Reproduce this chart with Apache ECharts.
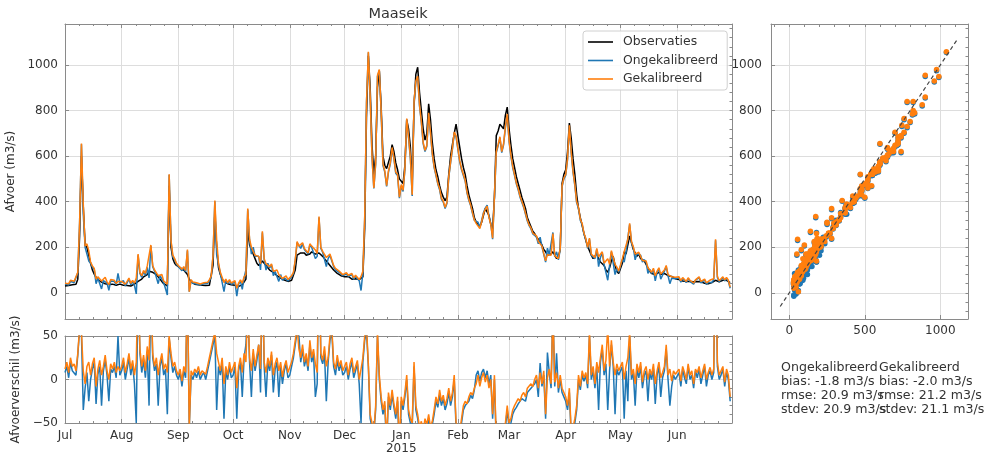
<!DOCTYPE html>
<html><head><meta charset="utf-8">
<script src="https://cdn.jsdelivr.net/npm/echarts@6/dist/echarts.min.js"></script>
<style>html,body{margin:0;padding:0;background:#fff}#c{width:992px;height:457px}</style>
</head><body><div id="c"></div>
<script>
// ---------- data ----------
const monthNames = ['Jan','Feb','Mar','Apr','May','Jun','Jul','Aug','Sep','Oct','Nov','Dec'];
const startYear = 2014, startMonth = 6, nDays = 365;
const seriesNames = ['Observaties','Ongekalibreerd','Gekalibreerd'];
const chartTitle = 'Maaseik';
const yLabelMain = 'Afvoer (m3/s)';
const yLabelDiff = 'Afvoerverschil (m3/s)';

// observed daily discharge (m3/s), Jul 2014 .. Jun 2015
const obs = [
 30,28,32,30,35,33,38,60,250,600,380,210,200,165,130,100,82,68,58,52,47,44,40,38,36,40,38,35,33,35,38,
 35,33,30,32,35,30,32,38,45,50,55,60,70,75,80,95,100,90,85,80,70,60,50,40,35,30,470,200,150,130,120,
 115,110,105,100,90,80,60,48,42,38,36,35,34,33,32,32,31,33,38,120,350,200,110,80,60,50,45,40,38,35,
 35,33,30,28,32,35,40,60,280,210,190,170,150,130,120,115,140,130,120,110,100,95,90,82,75,70,65,60,56,52,50,
 52,55,60,100,165,170,175,180,175,165,160,170,180,175,170,165,175,170,160,150,140,130,120,110,100,95,85,80,75,70,
 70,68,72,65,60,58,62,55,58,60,70,280,780,1040,900,650,520,600,900,975,820,600,560,545,550,600,650,620,570,540,500,
 495,480,560,760,720,640,480,820,960,990,880,800,720,670,700,830,760,660,590,540,510,470,440,420,405,420,520,600,650,700,740,
 690,640,590,550,520,470,430,400,370,330,310,300,290,310,340,370,375,340,300,280,420,690,710,740,740,720,780,815,
 720,650,590,550,510,480,450,420,395,370,330,310,290,270,260,245,235,225,210,190,180,165,158,170,180,165,150,160,190,480,520,
 540,620,745,680,590,520,430,370,330,295,260,230,205,185,165,150,160,175,150,135,140,120,100,90,110,140,160,120,95,85,
 90,130,180,170,210,250,220,190,175,160,170,150,145,140,125,110,95,85,90,80,85,90,80,75,85,80,75,70,72,65,62,
 60,58,55,52,55,50,48,50,52,48,45,50,55,48,45,42,44,40,42,45,50,55,52,48,50,55,60,55,50,45
];
// model minus observation, uncalibrated (m3/s)
const diffUncal = [
 8,15,2,20,10,12,5,28,58,52,-35,-10,8,-25,0,12,20,-28,6,15,-30,10,22,5,-25,12,8,15,2,50,5,
 10,20,0,12,25,5,18,-5,-50,115,30,8,22,2,32,-30,105,25,10,18,-30,15,25,5,12,-40,48,25,8,15,5,
 0,8,-8,10,2,105,-55,5,0,8,2,10,0,5,8,0,10,20,30,40,52,-35,15,5,20,-45,10,0,15,2,
 5,15,-45,10,20,-20,25,40,85,20,-20,30,10,22,40,-15,125,15,-20,20,10,28,-15,12,20,-20,15,-5,10,18,2,
 5,15,25,40,55,50,20,35,15,25,10,40,20,30,-20,-5,155,25,18,30,-25,20,45,55,15,5,22,10,18,5,
 8,15,0,12,20,2,10,18,-5,-50,20,45,55,15,-45,-55,-62,-35,50,0,-25,-40,-30,-78,-20,-35,-18,-32,-45,-25,-85,
 -25,-35,-20,0,-40,-50,-55,15,-35,-45,-60,-52,-65,-50,-58,-45,-60,-52,-40,-25,-32,-18,-30,-22,-35,-28,-15,-30,-20,0,-55,
 -60,-65,-50,-35,-30,-32,-25,-18,-22,-12,5,10,-2,8,12,2,10,-5,5,-45,0,-75,-65,-60,-125,-70,-55,-35,
 -55,-50,-40,-35,-32,-28,-30,-22,-20,-25,-15,-15,-10,-12,-5,0,-20,19,-8,5,-45,31,8,-10,85,-8,30,-15,0,-15,-20,
 -25,-35,-15,-65,-60,-50,-35,0,-12,5,-2,5,-10,50,0,10,-10,15,-35,20,35,5,18,-35,10,40,15,-40,12,5,
 5,15,-45,10,-25,50,0,8,-30,12,2,15,-10,5,10,-25,8,0,12,-28,5,15,-20,2,10,35,0,-30,-8,5,0,
 0,8,-8,12,2,-5,15,0,5,-10,10,2,12,-5,5,15,-8,5,10,0,8,175,15,0,5,12,-8,8,0,-25
];
// model minus observation, calibrated (m3/s)
const diffCal = [
 12,20,8,25,15,18,10,30,60,55,10,-5,15,20,5,18,25,-8,12,22,5,15,28,10,0,18,12,20,8,15,10,
 15,25,8,18,30,12,22,5,20,120,35,15,28,10,38,22,110,30,15,25,5,20,30,12,18,8,50,30,15,20,10,
 5,12,-2,15,8,110,-55,10,5,12,8,15,5,10,12,6,15,25,35,45,55,30,20,10,25,-5,15,5,20,8,
 10,20,-10,15,25,8,30,20,90,25,10,35,15,28,40,12,130,20,8,25,15,32,5,18,25,10,20,3,15,22,8,
 10,20,30,45,60,35,25,40,20,30,15,45,25,35,18,8,160,30,22,38,15,25,50,60,20,12,28,15,22,10,
 12,20,5,18,25,8,15,22,0,12,25,50,60,18,-40,-50,-60,-30,55,5,-20,-35,-25,-75,-15,-30,-12,-28,-40,-20,-80,
 -20,-30,-15,5,-35,-45,-50,20,-30,-40,-55,-48,-60,-45,-52,-40,-55,-48,-35,-20,-28,-12,-25,-18,-30,-22,-10,-25,-15,5,-50,
 -55,-60,-45,-30,-25,-28,-20,-15,-18,-10,-5,5,-8,2,8,-3,5,-10,0,-40,5,-70,-60,-55,-120,-65,-50,-30,
 -50,-45,-35,-30,-28,-22,-25,-18,-15,-20,-10,-12,-5,-8,0,5,-10,8,-5,10,-40,2,12,-5,80,-3,8,-10,5,-10,-15,
 -20,-30,-10,-60,-55,-45,-30,5,-8,10,2,8,-5,55,5,15,-5,20,8,25,40,10,22,60,15,45,20,5,18,10,
 10,20,0,15,25,55,5,12,-5,18,8,20,-3,10,15,0,12,5,18,-5,10,20,2,8,15,40,5,12,-2,10,6,
 5,12,-2,15,8,0,18,5,10,-5,12,8,15,2,10,18,0,8,14,5,12,180,20,5,10,15,-3,12,5,-20
];
const mainTicks = [0,200,400,600,800,1000];
const diffTicks = [-50,0,50];
const scatterXTicks = [0,500,1000];
const diagExtent = [-60,1115];
const statsCols = ['Ongekalibreerd','Gekalibreerd'];
const statsBias = ['-1.8','-2.0'];
const statsRmse = ['20.9','21.2'];
const statsStdev = ['20.9','21.1'];

// ---------- derived ----------
const DAY = 864e5;
const dates = [];
for (let i = 0; i < nDays; i++) dates.push(new Date(startYear, startMonth, 1 + i).getTime());
const tMin = new Date(startYear, startMonth, 1).getTime();
const tMax = new Date(startYear + 1, startMonth, 1).getTime();
const uncal = obs.map((v, i) => v + diffUncal[i]);
const cal = obs.map((v, i) => v + diffCal[i]);
function steps(a, b, s){ const r=[]; for(let v=a; v<=b+1e-9; v+=s) r.push(v); return r; }
const mainMinor = steps(-80, 1160, 40);
const diffMinor = steps(-50, 50, 10);
const scatMinor = steps(-100, 1100, 100);

const FONT = 'DejaVu Sans';
const AX = '#8a8a8a', GRIDC = '#dddddd', TXT = '#333333';
const C_OBS = '#000000', C_UN = '#1f77b4', C_CAL = '#ff7f0e';

function fmtNum(v){ return v < 0 ? '\u2212' + Math.abs(v) : String(v); }
function fmtMonth(v){
  if (v >= tMax - DAY) return '';
  const d = new Date(v); const m = d.getMonth();
  return m === 0 ? monthNames[0] + '\n' + d.getFullYear() : monthNames[m];
}

function tAxis(gi, pos, labels, split){
  return {
    type:'time', gridIndex:gi, position:pos, min:tMin, max:tMax,
    splitNumber:12, minInterval:28*DAY, maxInterval:31*DAY,
    axisLine:{show:true,onZero:false,lineStyle:{color:AX,width:1}},
    axisTick:{show:true,inside:true,length:4,lineStyle:{color:AX,width:1}},
    minorTick:{show:true,splitNumber:4,length:2,lineStyle:{color:AX,width:1}},
    splitLine:{show:split,lineStyle:{color:GRIDC,width:1}},
    minorSplitLine:{show:false},
    axisLabel: labels ? {show:true,formatter:fmtMonth,color:TXT,fontSize:12,fontFamily:FONT,margin:6,lineHeight:13,showMinLabel:true,showMaxLabel:false,hideOverlap:false} : {show:false}
  };
}
function vAxis(gi, pos, min, max, ticks, labels, split, tickLen, extra){
  return Object.assign({
    type:'value', gridIndex:gi, position:pos, min:min, max:max,
    axisLine:{show:true,onZero:false,lineStyle:{color:AX,width:1}},
    axisTick:{show:true,inside:true,length:tickLen,customValues:ticks,lineStyle:{color:AX,width:1}},
    splitLine:{show:split,lineStyle:{color:GRIDC,width:1}},
    axisLabel: labels ? {show:true,customValues:ticks,formatter:fmtNum,color:TXT,fontSize:12,fontFamily:FONT,margin:7} : {show:false}
  }, extra || {});
}
function lineS(name, xi, yi, data, color, z){
  return {type:'line', name:name, xAxisIndex:xi, yAxisIndex:yi, data:data, symbol:'none', showSymbol:false,
    lineStyle:{color:color,width:1.5}, itemStyle:{color:color}, z:z, clip:true, emphasis:{disabled:true}};
}
const ts = (arr) => dates.map((t, i) => [t, arr[i]]);

const statLines = statsCols.map((c, i) => [c, 'bias: ' + statsBias[i] + ' m3/s', 'rmse: ' + statsRmse[i] + ' m3/s', 'stdev: ' + statsStdev[i] + ' m3/s']);
const statX = [781, 879], statY = [367.7, 381.8, 396, 410.2];
const graphics = [{type:'text', x:398, y:14, style:{text:chartTitle, font:'14.5px "DejaVu Sans"', fill:TXT, textAlign:'center', textVerticalAlign:'middle'}}];
statLines.forEach((col, ci) => col.forEach((t, li) => graphics.push({type:'text', x:statX[ci], y:statY[li], style:{text:t, font:'12.6px "DejaVu Sans"', fill:TXT, textAlign:'left', textVerticalAlign:'middle'}})));

const chart = echarts.init(document.getElementById('c'), null, {renderer:'canvas'});
chart.setOption({
  animation:false,
  backgroundColor:'#ffffff',
  textStyle:{fontFamily:FONT},
  grid:[
    {left:65, top:24, width:667, height:295, containLabel:false, outerBoundsMode:'none'},
    {left:65, top:336, width:667, height:87, containLabel:false, outerBoundsMode:'none'},
    {left:771, top:24, width:197, height:295, containLabel:false, outerBoundsMode:'none'}
  ],
  xAxis:[
    tAxis(0,'bottom',false,true),
    tAxis(0,'top',false,false),
    tAxis(1,'bottom',true,true),
    tAxis(1,'top',false,false),
    vAxis(2,'bottom',-121,1183,scatterXTicks,true,true,4,{axisLabel:{show:true,customValues:scatterXTicks,formatter:fmtNum,color:TXT,fontSize:12,fontFamily:FONT,margin:6}}),
    vAxis(2,'top',-121,1183,scatMinor,false,false,3)
  ],
  yAxis:[
    vAxis(0,'left',-115,1180,mainTicks,true,true,4,{name:yLabelMain,nameLocation:'middle',nameGap:40,nameTextStyle:{fontSize:12,color:TXT,fontFamily:FONT}}),
    vAxis(0,'right',-115,1180,mainMinor,false,false,2.5),
    vAxis(1,'left',-50,50,diffTicks,true,true,4,{name:yLabelDiff,nameLocation:'middle',nameGap:35,nameTextStyle:{fontSize:12,color:TXT,fontFamily:FONT}}),
    vAxis(1,'right',-50,50,diffMinor,false,false,2.5),
    vAxis(2,'left',-115,1180,mainTicks,true,true,4,{axisLabel:{show:true,customValues:mainTicks,formatter:fmtNum,color:TXT,fontSize:12,fontFamily:FONT,margin:9}}),
    vAxis(2,'right',-115,1180,mainMinor,false,false,2.5)
  ],
  legend:{
    data:seriesNames.map(n => ({name:n, icon:'rect'})),
    orient:'vertical', left:583, top:31, itemWidth:25, itemHeight:1.6, itemGap:6.5,
    padding:[5,9,5,5], borderColor:'#d0d0d0', borderWidth:1, borderRadius:3,
    backgroundColor:'rgba(255,255,255,0.85)', selectedMode:false,
    textStyle:{fontSize:12.4,color:TXT,fontFamily:FONT,padding:[0,0,0,5]}
  },
  graphic:graphics,
  series:[
    lineS(seriesNames[0],0,0,ts(obs),C_OBS,2),
    lineS(seriesNames[1],0,0,ts(uncal),C_UN,3),
    lineS(seriesNames[2],0,0,ts(cal),C_CAL,4),
    lineS('diff ' + seriesNames[1],2,2,ts(diffUncal),C_UN,3),
    lineS('diff ' + seriesNames[2],2,2,ts(diffCal),C_CAL,4),
    {type:'scatter', name:'scatter ' + seriesNames[1], xAxisIndex:4, yAxisIndex:4, data:obs.map((v,i)=>[v,uncal[i]]), symbolSize:5.5, itemStyle:{color:C_UN,opacity:1}, z:3, emphasis:{disabled:true}},
    {type:'scatter', name:'scatter ' + seriesNames[2], xAxisIndex:4, yAxisIndex:4, data:obs.map((v,i)=>[v,cal[i]]), symbolSize:5.5, itemStyle:{color:C_CAL,opacity:1}, z:4, emphasis:{disabled:true}},
    {type:'line', name:'1:1', xAxisIndex:4, yAxisIndex:4, data:[[diagExtent[0],diagExtent[0]],[diagExtent[1],diagExtent[1]]], symbol:'none', showSymbol:false, lineStyle:{color:'#444444',width:1.2,type:[4,3]}, z:5, emphasis:{disabled:true}}
  ]
});
</script>
</body></html>
